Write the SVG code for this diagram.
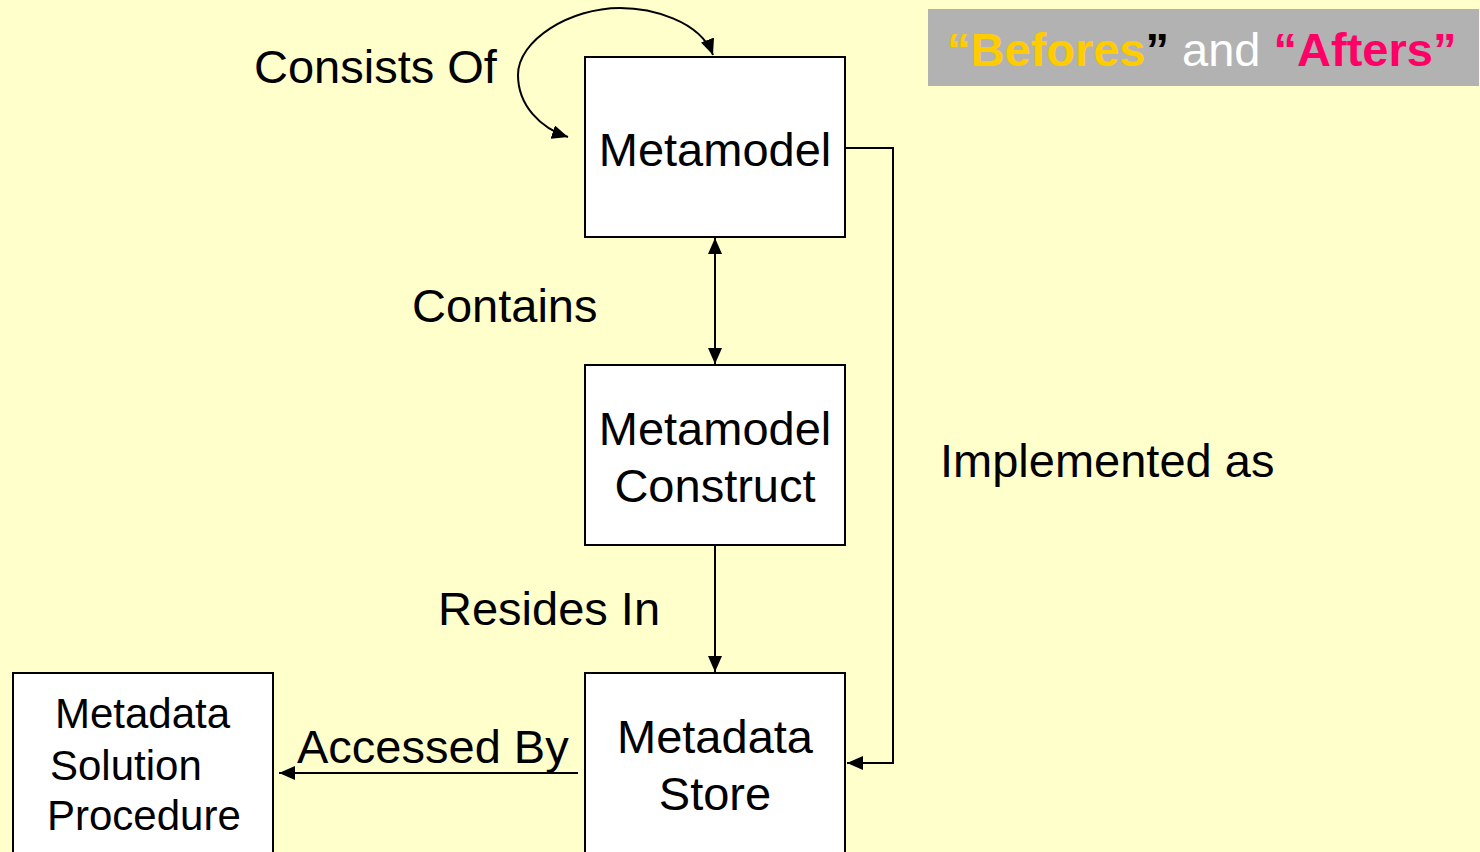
<svg xmlns="http://www.w3.org/2000/svg" width="1480" height="852" viewBox="0 0 1480 852">
<defs>
<style>
.bg{fill:#FFFFCC}
.box{fill:#FFFFFF;stroke:#000000;stroke-width:2}
.t{font-family:"Liberation Sans",Arial,sans-serif;font-size:47px;fill:#000000}
.ts{font-family:"Liberation Sans",Arial,sans-serif;font-size:42px;fill:#000000}
.c{fill:none;stroke:#000000;stroke-width:2}
.b{font-family:"Liberation Sans",Arial,sans-serif;font-size:47px;font-weight:bold}
</style>
<marker id="ah" viewBox="0 0 16 14" refX="16" refY="7" markerWidth="16" markerHeight="14" markerUnits="userSpaceOnUse" orient="auto-start-reverse">
<path d="M0,0 L16,7 L0,14 Z" fill="#000000"/>
</marker>
</defs>
<rect class="bg" x="0" y="0" width="1480" height="852"/>
<g id="banner">
<rect x="928" y="9" width="551" height="77" fill="#B2B2B2"/>
<text x="947" y="66" class="b"><tspan fill="#FFCC00">“Befores</tspan><tspan fill="#000000">”</tspan><tspan fill="#FFFFFF" font-weight="normal"> and </tspan><tspan fill="#FF0066">“Afters”</tspan></text>
</g>
<g id="connectors">
<path class="c" d="M568,137 C540,128 518,105 518,75 C518,40 570,8 620,8 C650,8 700,20 713,55" marker-start="url(#ah)" marker-end="url(#ah)"/>
<line class="c" x1="715" y1="238" x2="715" y2="364" marker-start="url(#ah)" marker-end="url(#ah)"/>
<line class="c" x1="715" y1="546" x2="715" y2="672" marker-end="url(#ah)"/>
<polyline class="c" points="846,148 893,148 893,763 847,763" marker-end="url(#ah)"/>
<line class="c" x1="578" y1="773" x2="279" y2="773" marker-end="url(#ah)"/>
</g>
<g id="labels">
<text class="t" x="254" y="83">Consists Of</text>
<text class="t" x="412" y="322">Contains</text>
<text class="t" x="438" y="625">Resides In</text>
<text class="t" x="940" y="477">Implemented as</text>
<text class="t" x="297" y="763">Accessed By</text>
</g>
<g id="metamodel">
<rect class="box" x="585" y="57" width="260" height="180"/>
<text class="t" x="715" y="166" text-anchor="middle">Metamodel</text>
</g>
<g id="metamodel-construct">
<rect class="box" x="585" y="365" width="260" height="180"/>
<text class="t" x="715" y="445" text-anchor="middle">Metamodel</text>
<text class="t" x="715" y="502" text-anchor="middle">Construct</text>
</g>
<g id="metadata-store">
<rect class="box" x="585" y="673" width="260" height="200"/>
<text class="t" x="715" y="753" text-anchor="middle">Metadata</text>
<text class="t" x="715" y="810" text-anchor="middle">Store</text>
</g>
<g id="metadata-solution-procedure">
<rect class="box" x="13" y="673" width="260" height="200"/>
<text class="ts" x="55" y="728">Metadata</text>
<text class="ts" x="50" y="780">Solution</text>
<text class="ts" x="47" y="830">Procedure</text>
</g>
</svg>
